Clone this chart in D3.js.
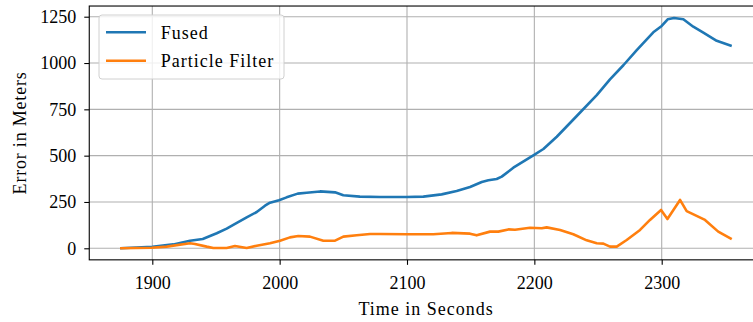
<!DOCTYPE html>
<html>
<head>
<meta charset="utf-8">
<script src="https://cdn.jsdelivr.net/npm/d3@7"></script>
<style>
  body { margin: 0; background: #fff; }
  svg { display: block; }
  text { font-family: "Liberation Serif", "DejaVu Serif", serif; }
</style>
</head>
<body>
<svg id="chart"></svg>
<script>
// values
const fusedTime = [1874.7, 1900, 1916.5, 1929.6, 1939.6, 1950.6, 1958.4, 1963.6, 1974.1, 1982, 1988.5, 1992.4,
    1999.5, 2005.5, 2014.2, 2021.2, 2031.7, 2043.5, 2050, 2063, 2078.8, 2099.8, 2112.8, 2127.2, 2139, 2149.5,
    2158.7, 2163.9, 2170.4, 2174.4, 2183.5, 2199.2, 2207.1, 2217.6, 2233.3, 2249, 2259.4, 2269.9, 2280.4,
    2293.4, 2300, 2304.7, 2309.7, 2317, 2324.8, 2332.7, 2343.2, 2355];
const fusedError = [0, 8, 21, 41, 50, 81, 106, 126, 167, 196, 230, 246,
    259, 275, 295, 300, 307, 302, 286, 279, 277, 277, 279, 291, 309, 331,
    358, 367, 374, 387, 435, 502, 536, 602, 714, 827, 912, 988, 1070,
    1166, 1200, 1236, 1243, 1236, 1196, 1164, 1120, 1092];

const pfTime = [1874.7, 1899.5, 1911.3, 1929.6, 1933.5, 1942.7, 1947.9, 1958.4, 1964.9, 1974.1, 1982, 1992.4,
    2000.3, 2008.1, 2014.6, 2023.8, 2034.3, 2043.5, 2050, 2060.5, 2071, 2078.8, 2099.8, 2120.7, 2135.1,
    2149.5, 2154.7, 2165.2, 2171.7, 2179.6, 2184.8, 2196.6, 2205.8, 2209.7, 2220.2, 2230.6, 2241.1, 2249,
    2254.2, 2259.4, 2264.7, 2272.5, 2283, 2290.8, 2299.5, 2304.5, 2314.4, 2319.6, 2334, 2344.4, 2355];
const pfError = [0, 3, 9, 27, 23, 9, 2, 2, 12, 2, 14, 27,
    41, 59, 66, 63, 41, 41, 63, 70, 77, 77, 76, 76, 83,
    79, 70, 90, 90, 102, 100, 111, 108, 113, 99, 76, 43, 27,
    25, 9, 9, 45, 99, 153, 207, 158, 261, 201, 153, 90, 49];

const xTicks = [1900, 2000, 2100, 2200, 2300];
const yTicks = [0, 250, 500, 750, 1000, 1250];
const seriesNames = ["Fused", "Particle Filter"];
const seriesColors = ["#1f77b4", "#ff7f0e"];

const width = 753, height = 322;
const xLimits = [1850.5, 2379.5];
const yLimits = [-62.3, 1307.6];

const svg = d3.select("#chart").attr("width", width).attr("height", height);

const x = d3.scaleLinear().domain([1900, 2300]).range([152.3, 661.7]);
const y = d3.scaleLinear().domain([0, 1250]).range([248.3, 16.7]);

const plotLeft = x(xLimits[0]), plotRight = x(xLimits[1]);
const plotTop = y(yLimits[1]), plotBottom = y(yLimits[0]);

// grid
const grid = svg.append("g").attr("stroke", "#b0b0b0").attr("stroke-width", 1.1);
grid.selectAll("line.gx").data(xTicks).join("line")
    .attr("x1", d => x(d)).attr("x2", d => x(d))
    .attr("y1", plotTop).attr("y2", plotBottom);
grid.selectAll("line.gy").data(yTicks).join("line")
    .attr("x1", plotLeft).attr("x2", plotRight)
    .attr("y1", d => y(d)).attr("y2", d => y(d));

// series
const line = d3.line().x(d => x(d[0])).y(d => y(d[1]));
const series = [d3.zip(fusedTime, fusedError), d3.zip(pfTime, pfError)];
svg.append("g").selectAll("path").data(series).join("path")
    .attr("fill", "none")
    .attr("stroke", (d, i) => seriesColors[i])
    .attr("stroke-width", 2.6)
    .attr("stroke-linejoin", "round")
    .attr("d", line);

// frame
svg.append("rect")
    .attr("x", plotLeft).attr("y", plotTop)
    .attr("width", plotRight - plotLeft).attr("height", plotBottom - plotTop)
    .attr("fill", "none").attr("stroke", "#000").attr("stroke-width", 1.1);

// axes
const xAxis = svg.append("g")
    .attr("transform", `translate(0,${plotBottom})`)
    .call(d3.axisBottom(x).tickValues(xTicks).tickSize(5).tickPadding(11).tickFormat(d3.format("d")));
const yAxis = svg.append("g")
    .attr("transform", `translate(${plotLeft},0)`)
    .call(d3.axisLeft(y).tickValues(yTicks).tickSize(5).tickPadding(8).tickFormat(d3.format("d")));
[xAxis, yAxis].forEach(a => {
    a.select(".domain").remove();
    a.selectAll(".tick line").attr("stroke", "#000").attr("stroke-width", 1.1);
    a.selectAll(".tick text").attr("fill", "#000").style("font-size", "18px")
        .style("font-family", "'Liberation Serif', serif");
});

// axis labels
svg.append("text")
    .attr("x", (plotLeft + plotRight) / 2).attr("y", 315)
    .attr("text-anchor", "middle").style("font-size", "18px")
    .style("letter-spacing", "1px")
    .text("Time in Seconds");
svg.append("text")
    .attr("transform", `translate(26,${(plotTop + plotBottom) / 2}) rotate(-90)`)
    .attr("text-anchor", "middle").style("font-size", "18px")
    .style("letter-spacing", "0.8px")
    .text("Error in Meters");

// legend
const legend = svg.append("g");
legend.append("rect")
    .attr("x", 99).attr("y", 15).attr("width", 185).attr("height", 64)
    .attr("rx", 3)
    .attr("fill", "#fff").attr("fill-opacity", 0.8)
    .attr("stroke", "#d0d0d0").attr("stroke-width", 1);
const items = legend.selectAll("g.item").data(seriesNames).join("g")
    .attr("transform", (d, i) => `translate(0,${32.3 + i * 28.4})`);
items.append("line")
    .attr("x1", 106).attr("x2", 146)
    .attr("stroke", (d, i) => seriesColors[i]).attr("stroke-width", 2.6);
items.append("text")
    .attr("x", 160.7).attr("dy", "0.35em")
    .style("font-size", "18px")
    .style("letter-spacing", "1px")
    .text(d => d);
</script>
</body>
</html>
